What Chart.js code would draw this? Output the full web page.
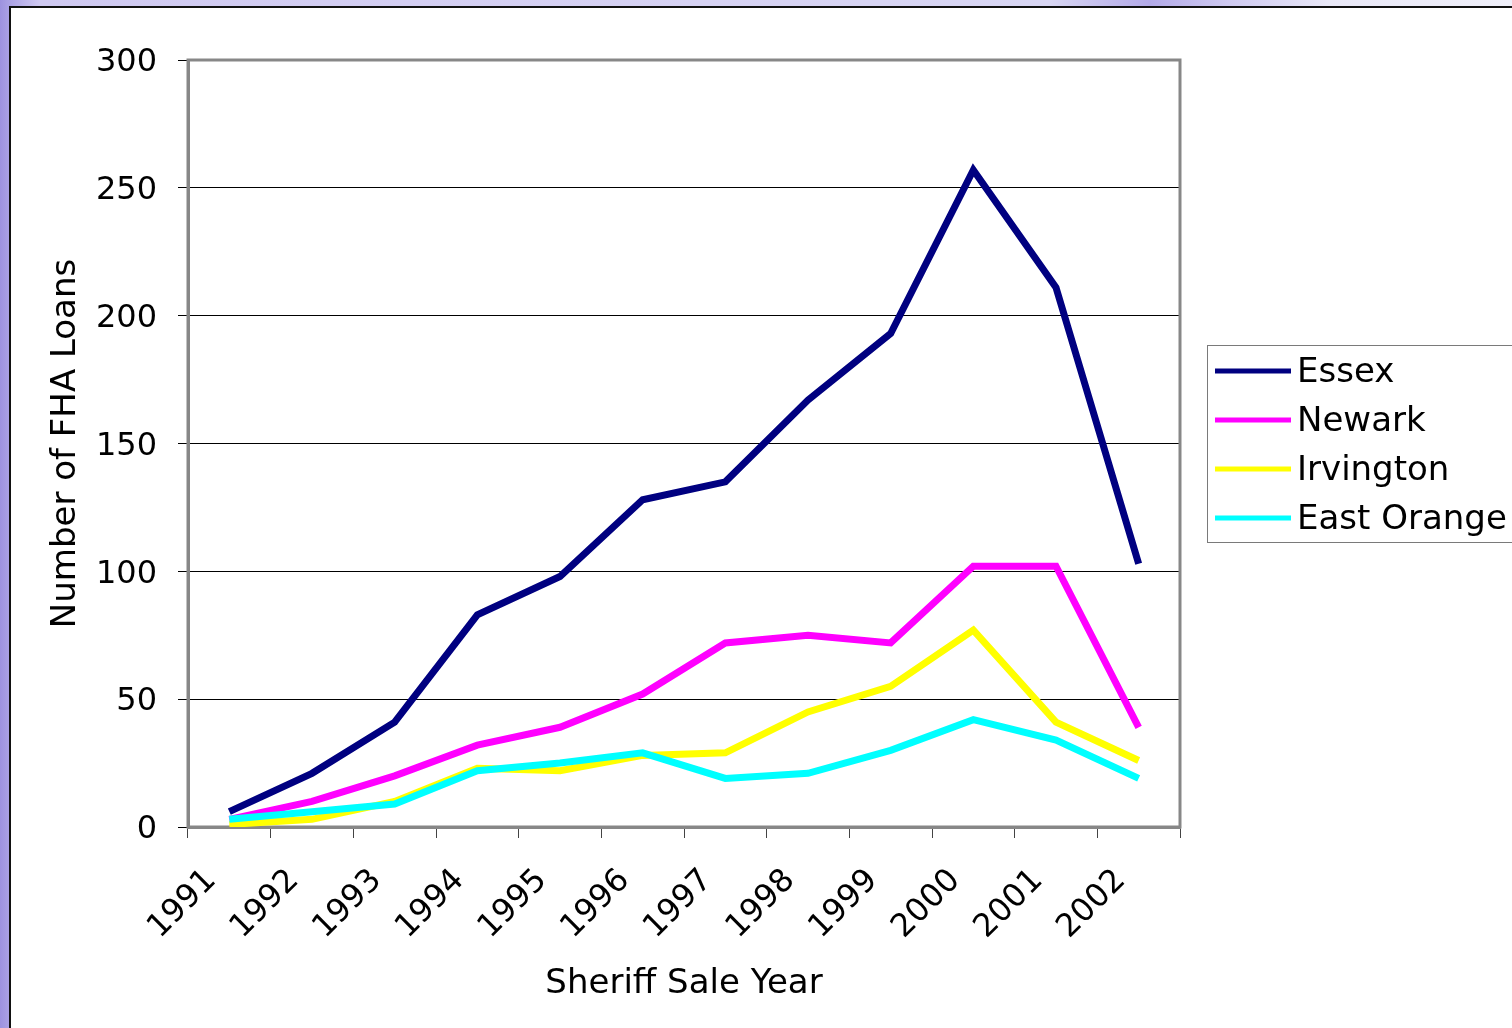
<!DOCTYPE html>
<html>
<head>
<meta charset="utf-8">
<title>FHA Loans at Sheriff Sale</title>
<script src="https://cdn.jsdelivr.net/npm/chart.js@4/dist/chart.umd.min.js"></script>
<style>
  html, body { margin: 0; padding: 0; width: 1512px; height: 1028px; overflow: hidden; }
  body {
    background: linear-gradient(to right, #9d92df 0px, #a99fe4 8px, #cfc9f1 40px, #d6d2f3 700px, #d8d6f3 1050px, #b2a9e8 1150px, #cfcaf1 1230px, #e9e8f7 1330px, #efeff9 1512px);
    font-family: "DejaVu Sans", Verdana, sans-serif;
  }
  #panel {
    position: absolute; left: 9px; top: 6px; right: -20px; bottom: -20px;
    background: #ffffff; border-left: 2px solid #111; border-top: 2px solid #111;
  }
  #wrap { position: absolute; left: 0; top: 0; width: 1512px; height: 1028px; }
</style>
</head>
<body>
<div id="panel"></div>
<div id="wrap"><canvas id="c" width="1512" height="1028"></canvas></div>
<script>
// Sheriff sale years
const years = ['1991', '1992', '1993', '1994', '1995', '1996', '1997', '1998', '1999', '2000', '2001', '2002'];

// Number of FHA loans per year
const essex      = [6, 21, 41, 83, 98, 128, 135, 167, 193, 257, 211, 103];
const newark     = [3, 10, 20, 32, 39, 52, 72, 75, 72, 102, 102, 39];
const irvington  = [1, 3, 10, 23, 22, 28, 29, 45, 55, 77, 41, 26];
const eastOrange = [3, 6, 9, 22, 25, 29, 19, 21, 30, 42, 34, 19];

const seriesNames  = ['Essex', 'Newark', 'Irvington', 'East Orange'];
const seriesColors = ['#000080', '#ff00ff', '#ffff00', '#00ffff'];
const seriesValues = [essex, newark, irvington, eastOrange];

// Y axis range
const yMin = 0, yMax = 300, yStep = 50;

const FONT = '"DejaVu Sans", Verdana, sans-serif';
const FS = 32;      // tick labels
const FS_T = 34;    // titles and legend

// Gray frame around the plot area
const plotFrame = {
  id: 'plotFrame',
  beforeDatasetsDraw(chart) {
    const a = chart.chartArea, ctx = chart.ctx;
    ctx.save();
    ctx.strokeStyle = '#878787';
    ctx.lineWidth = 3;
    ctx.strokeRect(a.left, a.top, a.right - a.left, a.bottom - a.top);
    ctx.restore();
  }
};

// Boxed legend to the right of the plot
const boxLegend = {
  id: 'boxLegend',
  afterDraw(chart) {
    const ctx = chart.ctx;
    const x0 = 1207, y0 = 345, w = 340, h = 197;
    ctx.save();
    ctx.fillStyle = '#ffffff';
    ctx.fillRect(x0, y0, w, h);
    ctx.strokeStyle = '#7a7a7a';
    ctx.lineWidth = 1;
    ctx.strokeRect(x0 + 0.5, y0 + 0.5, w, h);
    const rowY = [371, 420, 469, 518];
    chart.data.datasets.forEach((ds, i) => {
      const y = rowY[i];
      ctx.strokeStyle = ds.borderColor;
      ctx.lineWidth = 5;
      ctx.lineCap = 'butt';
      ctx.beginPath();
      ctx.moveTo(1215, y);
      ctx.lineTo(1291, y);
      ctx.stroke();
      ctx.fillStyle = '#000';
      ctx.font = FS_T + 'px ' + FONT;
      ctx.textBaseline = 'middle';
      ctx.textAlign = 'left';
      ctx.fillText(ds.label, 1297, y + 2);
    });
    ctx.restore();
  }
};

const datasets = seriesNames.map((name, i) => ({
  label: name,
  data: seriesValues[i],
  borderColor: seriesColors[i],
  backgroundColor: seriesColors[i],
  borderWidth: 7,
  borderCapStyle: 'butt',
  borderJoinStyle: 'miter',
  pointRadius: 0,
  pointHoverRadius: 0,
  tension: 0,
  fill: false,
  order: seriesNames.length - i
}));

new Chart(document.getElementById('c'), {
  type: 'line',
  data: { labels: years, datasets },
  options: {
    responsive: false,
    animation: false,
    devicePixelRatio: 1,
    layout: { padding: { left: 0, top: 60, right: 332, bottom: 0 } },
    plugins: { legend: { display: false }, tooltip: { enabled: false } },
    scales: {
      x: {
        type: 'category',
        offset: true,
        afterFit(scale) { scale.height = 201; },
        grid: { drawOnChartArea: false, offset: true, tickLength: 11, color: '#444', lineWidth: 1 },
        border: { color: '#878787', width: 3 },
        ticks: {
          color: '#000', font: { family: FONT, size: FS },
          minRotation: 45, maxRotation: 45, autoSkip: false,
          padding: 24, labelOffset: -18
        },
        title: {
          display: true, text: 'Sheriff Sale Year', color: '#000',
          font: { family: FONT, size: FS_T }, padding: { top: 23, bottom: 23 }
        }
      },
      y: {
        min: yMin, max: yMax,
        afterFit(scale) { scale.width = 188; },
        grid: { color: '#000', lineWidth: 1, tickLength: 10, tickColor: '#000' },
        border: { color: '#878787', width: 3 },
        ticks: { stepSize: yStep, color: '#000', font: { family: FONT, size: FS }, padding: 21, labelOffset: 3 },
        title: {
          display: true, text: 'Number of FHA Loans', color: '#000',
          font: { family: FONT, size: FS_T }, padding: { top: 46, bottom: 0 }
        }
      }
    }
  },
  plugins: [plotFrame, boxLegend]
});
</script>
</body>
</html>
